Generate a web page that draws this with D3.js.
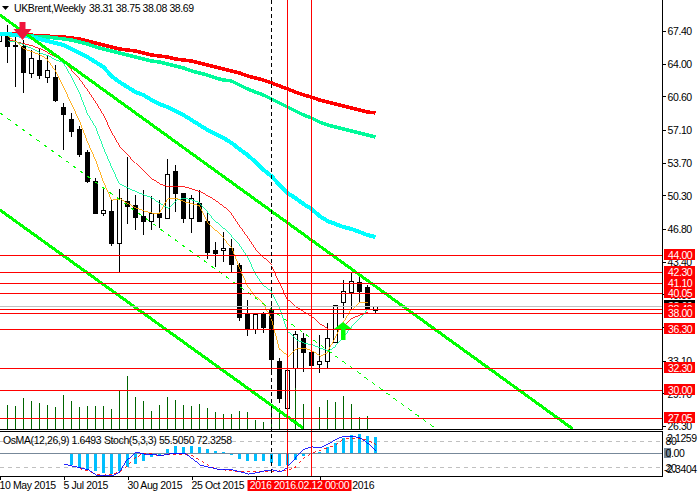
<!DOCTYPE html>
<html>
<head>
<meta charset="utf-8">
<script src="https://cdn.jsdelivr.net/npm/d3@7"></script>
<style>
  html, body { margin: 0; padding: 0; background: #fff; }
  svg { display: block; }
  text { font-family: "Liberation Sans", sans-serif; font-size: 10.5px; letter-spacing: -0.4px; fill: #000; }
</style>
</head>
<body>
<div id="chart"></div>
<script>
// weekly candles, bar 0 = 10 May 2015
const opens = [66.30,66.78,65.94,65.74,62.93,64.38,62.51,62.61,59.49,58.14,57.10,54.71,51.79,48.36,48.67,45.24,49.61,49.29,48.15,47.63,48.36,47.94,52.83,50.54,47.84,49.40,47.63,44.61,44.51,44.82,42.95,37.85,36.39,37.85,38.37,33.06,28.07,32.33,35.45,33.99,32.75,32.96,35.04,39.10,40.24,41.18,40.66,38.31];
const highs = [67.00,68.03,66.88,66.46,65.42,65.53,64.90,63.86,59.91,58.87,57.51,55.02,52.10,51.06,49.81,50.96,54.29,50.33,50.86,50.23,49.81,54.08,53.46,50.54,50.33,50.86,48.46,45.44,46.48,45.75,43.26,39.41,37.95,38.16,38.89,33.37,32.12,36.18,35.97,33.99,35.76,37.02,38.89,41.49,42.22,41.80,40.97,38.75];
const lows = [66.30,64.07,61.57,60.95,62.51,62.40,61.99,60.01,55.02,56.37,54.29,51.58,48.36,48.15,45.03,42.22,47.32,46.69,46.17,46.69,46.90,47.94,48.56,47.42,46.38,47.63,43.67,42.84,43.36,42.32,37.23,35.66,35.87,35.97,31.81,28.69,28.07,30.25,31.91,32.64,31.81,32.33,35.04,37.50,38.37,39.20,38.42,38.08];
const closes = [67.00,65.74,65.74,63.13,64.59,62.82,63.24,60.22,58.66,56.99,54.50,51.69,48.46,48.77,45.24,49.92,49.19,48.04,47.63,48.36,48.04,52.52,50.44,47.94,50.02,47.63,44.40,44.30,44.82,43.15,37.64,36.49,37.95,36.60,33.27,29.11,32.12,35.87,33.99,32.64,33.06,35.45,38.89,40.34,41.38,40.34,38.57,38.69];
const volumes = [0,24,23,31,28,26,24,22,34,28,22,23,23,23,20,38,53,32,28,18,24,32,29,24,23,25,21,17,15,15,18,17,9,7,22,21,17,41,25,18,22,29,27,33,25,12,13,0];

// moving averages, all start at bar 1 except maCyan (bar 0)
const maRedThick = [67.09,67.09,66.98,66.98,66.88,66.88,66.78,66.78,66.67,66.57,66.36,66.15,65.94,65.74,65.53,65.42,65.32,65.11,64.90,64.80,64.69,64.49,64.38,64.28,64.07,63.86,63.65,63.45,63.24,63.03,62.72,62.51,62.30,61.99,61.68,61.37,61.05,60.74,60.53,60.22,60.01,59.80,59.60,59.39,59.18,58.97,58.87];
const maTealThick = [66.98,66.98,66.88,66.88,66.78,66.78,66.67,66.57,66.46,66.26,66.05,65.74,65.53,65.32,65.11,64.90,64.69,64.49,64.28,64.17,63.97,63.76,63.55,63.24,63.03,62.82,62.51,62.30,62.20,61.78,61.37,61.05,60.74,60.32,59.91,59.49,59.08,58.66,58.35,57.93,57.62,57.41,57.20,56.99,56.79,56.58,56.37];
const maCyan = [67.09,67.09,66.98,66.88,66.78,66.57,66.36,66.15,65.94,65.53,65.11,64.69,64.17,63.65,62.72,62.09,61.57,61.05,60.74,60.22,59.80,59.49,59.08,58.66,58.14,57.62,57.10,56.68,56.27,55.75,55.12,54.50,53.77,52.94,52.31,51.38,50.54,50.02,49.40,48.88,48.15,47.63,47.32,47.00,46.80,46.49,46.17,45.96];
const maRedThin = [66.46,66.26,66.05,65.84,65.53,65.11,64.69,64.17,63.34,62.41,61.26,60.01,58.66,56.89,55.43,54.50,53.66,52.83,52.00,51.48,51.17,51.27,51.17,50.96,50.65,50.23,49.71,49.08,48.36,47.11,45.96,44.71,43.78,42.95,41.18,39.41,38.68,38.16,37.64,36.91,36.39,36.39,36.81,37.53,37.85,38.16];
const maTealThin = [66.36,66.26,65.94,65.53,65.11,64.80,64.38,64.07,62.61,60.95,58.76,57.41,55.23,53.25,51.48,51.06,50.65,50.33,50.02,49.40,48.98,49.81,50.02,49.81,49.50,48.57,47.52,46.80,46.07,45.13,43.88,42.11,40.86,40.24,38.58,36.08,35.25,34.93,34.73,34.41,34.10,34.62,35.56,36.60,37.53,38.37];
const maOrange = [66.78,66.26,65.53,65.22,64.90,64.38,63.24,61.57,59.80,58.03,55.85,53.98,51.69,49.81,49.92,49.40,48.98,48.67,48.46,48.46,49.92,50.02,49.61,49.40,49.19,47.52,46.59,45.76,44.92,42.74,40.86,39.72,38.99,37.43,34.21,33.58,34.31,34.41,34.10,33.58,33.99,35.56,37.12,38.47,39.20,39.10];

// trend channel: [bar, price] end points
const channelUpper = [[0.125,69.06],[71.75,25.98]];
const channelLower = [[0.125,48.77],[38,26.09]];
const channelMid = [[0.125,58.87],[54.5,26.09]];

const levels = [44.00,42.30,41.10,40.05,38.40,38.00,36.30,32.30,30.00,27.05];
const lastPrice = 38.69;
const vlinesRed = [36,39];
const vlineDash = 34;
const priceTicks = [67.40,64.00,60.60,57.10,53.70,50.30,46.80,43.40,40.00,36.60,33.10,29.70,26.30];
const dateTickBars = [0,8,16,24,32,40];
const dateTickLabels = ["10 May 2015","5 Jul 2015","30 Aug 2015","25 Oct 2015","20 Dec 2015","14 Feb 2016"];
const dateBoxes = [[36,"2016.01.15 00:00"],[39,"2016.02.12 00:00"]];

// OsMA from bar 9, stochastic main from bar 8, signal from bar 10
const osma = [-1.21,-1.52,-1.72,-1.82,-2.02,-2.13,-1.82,-1.42,-1.11,-0.81,-0.40,-0.30,0.40,0.71,0.61,0.71,0.61,0.40,0.20,0.15,-0.20,-0.61,-0.81,-0.81,-0.81,-1.01,-1.32,-1.21,-0.71,-0.30,-0.15,0.15,0.61,1.01,1.52,1.82,1.92,1.72,1.65];
const stochMain = [26.9,22.3,17.7,13.1,1.5,0,0,8.5,38.5,54.6,50,50,45.4,50,52.3,52.3,38.5,24.6,20,15.4,13.1,13.1,8.5,3.8,6.2,10.8,13.1,8.5,20,40.8,61.5,66.2,63.9,73.1,84.6,91.5,91.5,86.9,73.1,55.5];
const stochSignal = [15.4,10.8,3.8,1.5,2.7,8.5,22.3,40.8,52.3,50,45.4,47.7,47.7,50,45.4,36.2,24.6,15.4,13.1,10.8,8.5,8.5,8.5,8.5,8.5,10.8,10.8,20,40.8,50,59.2,63.9,70.8,84.6,86.9,86.9,82.3,72.3];

const W = 700, H = 496, plotRight = 662;
const mainBottom = 429, subTop = 431, subBottom = 476;
const thin = 0.85;

const svg = d3.select("#chart").append("svg").attr("width", W).attr("height", H);

const x = d3.scaleLinear().domain([0, 48]).range([-1, 383]);
const y = d3.scaleLinear().domain([67.4, 26.3]).range([31, 426]);
const yVol = d3.scaleLinear().domain([0, 100]).range([mainBottom, mainBottom - 100]);
const yOsma = d3.scaleLinear().domain([0, 2.1259]).range([453, 432]);
const yStoch = d3.scaleLinear().domain([20, 80]).range([467, 441]);
const cx = (i) => x(i) + 0.5;
const row = (v) => Math.floor(y(v)) + 0.5;

svg.append("clipPath").attr("id", "mainClip").append("rect").attr("width", plotRight).attr("height", mainBottom);

const main = svg.append("g").attr("clip-path", "url(#mainClip)");
const sub = svg.append("g");

// volumes
main.selectAll(".vol").data(volumes).join("line")
  .attr("x1", (d, i) => cx(i)).attr("x2", (d, i) => cx(i))
  .attr("y1", mainBottom).attr("y2", (d) => yVol(d))
  .attr("stroke", (d) => (d > 0 ? "#006400" : "none"))
  .attr("shape-rendering", "crispEdges");

// candles
const candles = main.selectAll(".candle").data(opens).join("g").attr("shape-rendering", "crispEdges");
candles.append("line")
  .attr("x1", (d, i) => cx(i)).attr("x2", (d, i) => cx(i))
  .attr("y1", (d, i) => y(highs[i])).attr("y2", (d, i) => y(lows[i]))
  .attr("stroke", "#000");
candles.append("rect")
  .attr("x", (d, i) => cx(i) - 2).attr("width", 4)
  .attr("y", (d, i) => y(Math.max(opens[i], closes[i])))
  .attr("height", (d, i) => Math.max(1, Math.abs(y(opens[i]) - y(closes[i]))))
  .attr("fill", (d, i) => (closes[i] >= opens[i] ? "#fff" : "#000"))
  .attr("stroke", "#000");

// moving averages
const priceLine = (values, start) =>
  d3.line().x((d, i) => cx(i + start)).y((d) => y(d))(values);

const maDefs = [
  [maRedThick, 1, "#ff0000", 3.5],
  [maTealThick, 1, "#00fa9a", 3.5],
  [maCyan, 0, "#00ffff", 4],
  [maRedThin, 1, "#ff0000", thin],
  [maTealThin, 1, "#00fa9a", thin],
  [maOrange, 1, "#ffa500", thin],
];
maDefs.forEach(([values, start, color, width]) => {
  main.append("path").attr("d", priceLine(values, start))
    .attr("fill", "none").attr("stroke", color).attr("stroke-width", width)
    .attr("shape-rendering", "crispEdges");
});

// channel
const chanLine = d3.line().x((d) => x(d[0])).y((d) => y(d[1]));
[channelUpper, channelLower].forEach((c) => {
  main.append("path").attr("d", chanLine(c)).attr("stroke", "#00ff00")
    .attr("stroke-width", 3).attr("fill", "none").attr("shape-rendering", "crispEdges");
});
main.append("path").attr("d", chanLine(channelMid)).attr("stroke", "#00ff00")
  .attr("stroke-width", 1).attr("stroke-dasharray", "4,5").attr("fill", "none")
  .attr("shape-rendering", "crispEdges");

// current price and levels
main.append("line").attr("x1", 0).attr("x2", plotRight)
  .attr("y1", row(lastPrice)).attr("y2", row(lastPrice))
  .attr("stroke", "#c0c0c0");
main.selectAll(".level").data(levels).join("line")
  .attr("x1", 0).attr("x2", plotRight)
  .attr("y1", (d) => row(d)).attr("y2", (d) => row(d))
  .attr("stroke", "#ff0000");

// signal arrows
const arrowDown = "M-2.5,-18H3.5V-11L9.5,-11L0.5,0L-8.5,-11L-2.5,-11Z";
main.append("path").attr("d", arrowDown)
  .attr("transform", `translate(${x(3) - 1},${y(66.46)})`).attr("fill", "#f0143c");
const arrowUp = "M0,0L9,7H2.5V18H-2V7H-9Z";
main.append("path").attr("d", arrowUp)
  .attr("transform", `translate(${x(43)},${y(37.12)})`).attr("fill", "#00ff00");

// indicator pane
const gridStyle = (sel, val, scale) => sel
  .attr("x1", 0).attr("x2", plotRight)
  .attr("y1", Math.round(scale(val)) + 0.5).attr("y2", Math.round(scale(val)) + 0.5);
gridStyle(sub.append("line"), 80, yStoch).attr("stroke", "#c0c0c0").attr("stroke-dasharray", "4,4");
gridStyle(sub.append("line"), 20, yStoch).attr("stroke", "#c0c0c0").attr("stroke-dasharray", "4,4");

sub.selectAll(".osma").data(osma).join("rect")
  .attr("x", (d, i) => x(i + 9) - 1).attr("width", 3)
  .attr("y", (d) => Math.min(yOsma(d), yOsma(0)))
  .attr("height", (d) => Math.abs(yOsma(d) - yOsma(0)))
  .attr("fill", "#00bfff").attr("shape-rendering", "crispEdges");

gridStyle(sub.append("line"), 0, yOsma).attr("stroke", "#778899");

const stochLine = (values, start) =>
  d3.line().x((d, i) => cx(i + start)).y((d) => yStoch(d))(values);
sub.append("path").attr("d", stochLine(stochSignal, 10)).attr("fill", "none").attr("stroke-width", thin)
  .attr("stroke", "#ff0000").attr("stroke-dasharray", "3,3").attr("shape-rendering", "crispEdges");
sub.append("path").attr("d", stochLine(stochMain, 8)).attr("fill", "none").attr("stroke-width", thin)
  .attr("stroke", "#0000ff").attr("shape-rendering", "crispEdges");

// vertical markers over both panes
svg.selectAll(".vred").data(vlinesRed).join("line")
  .attr("x1", (d) => cx(d)).attr("x2", (d) => cx(d))
  .attr("y1", 0).attr("y2", subBottom).attr("stroke", "#ff0000")
  .attr("shape-rendering", "crispEdges");
svg.append("line").attr("x1", cx(vlineDash)).attr("x2", cx(vlineDash))
  .attr("y1", 0).attr("y2", subBottom).attr("stroke", "#000")
  .attr("stroke-dasharray", "4,3").attr("shape-rendering", "crispEdges");

// frames
const frame = svg.append("g").attr("stroke", "#000").attr("shape-rendering", "crispEdges");
frame.append("line").attr("x1", 0).attr("x2", plotRight + 1).attr("y1", mainBottom + 0.5).attr("y2", mainBottom + 0.5);
frame.append("line").attr("x1", 0).attr("x2", plotRight + 1).attr("y1", subTop + 0.5).attr("y2", subTop + 0.5);
frame.append("line").attr("x1", 0).attr("x2", plotRight + 1).attr("y1", subBottom + 0.5).attr("y2", subBottom + 0.5);
frame.append("line").attr("x1", plotRight + 0.5).attr("x2", plotRight + 0.5).attr("y1", 0).attr("y2", mainBottom + 1);
frame.append("line").attr("x1", plotRight + 0.5).attr("x2", plotRight + 0.5).attr("y1", subTop).attr("y2", subBottom + 1);

// price axis
const yAxis = svg.append("g").attr("transform", `translate(${plotRight + 0.5},0)`)
  .call(d3.axisRight(y).tickValues(priceTicks).tickFormat(d3.format(".2f")).tickSize(3).tickPadding(2));
yAxis.select(".domain").remove();
yAxis.selectAll("line").attr("stroke", "#000").attr("shape-rendering", "crispEdges");
yAxis.selectAll("text").attr("dy", "0.36em");

// labels for the level lines
const priceBox = (value, fill) => {
  const g = svg.append("g");
  const ly = Math.floor(y(value));
  g.append("rect").attr("x", plotRight + 2).attr("width", 31)
    .attr("y", ly - 6).attr("height", 11).attr("fill", fill);
  g.append("text").attr("x", plotRight + 6).attr("y", ly + 3.5)
    .style("fill", "#fff").text(d3.format(".2f")(value));
};
priceBox(lastPrice, "#000");
levels.forEach((v) => priceBox(v, "#ff0000"));

// indicator scale labels
const subLabels = [
  ["2.1259", 667, 441.5],
  ["80", 665.5, 444.5],
  ["-2.3404", 664, 472.5],
  ["20", 665.5, 471.5],
];
svg.append("rect").attr("x", 664).attr("y", 448).attr("width", 7).attr("height", 10).attr("fill", "#778899");
svg.append("text").attr("x", 665.5).attr("y", 456.5).text("0.00");
subLabels.forEach(([t, lx, ly]) => svg.append("text").attr("x", lx).attr("y", ly).text(t));

// time axis
const xAxis = svg.append("g").attr("transform", `translate(0,${subBottom + 0.5})`)
  .call(d3.axisBottom(x).tickValues(dateTickBars)
    .tickFormat((d, i) => dateTickLabels[i]).tickSize(3).tickPadding(2));
xAxis.select(".domain").remove();
xAxis.selectAll("line").attr("stroke", "#000").attr("transform", "translate(0.5,0)").attr("shape-rendering", "crispEdges");
xAxis.selectAll("text").attr("text-anchor", "start").attr("dy", "0.71em");

dateBoxes.forEach(([bar, label]) => {
  const g = svg.append("g");
  g.append("rect").attr("x", cx(bar) - 40).attr("width", 80)
    .attr("y", 480).attr("height", 11).attr("fill", "#ff0000");
  g.append("text").attr("x", cx(bar)).attr("y", 489).attr("text-anchor", "middle")
    .style("fill", "#fff").text(label);
});

// header
svg.append("path").attr("d", d3.line()([[2, 6], [9, 6], [5.5, 10]])).attr("fill", "#000");
svg.append("text").attr("x", 14).attr("y", 11.5).text("UKBrent,Weekly");
svg.append("text").attr("x", 89).attr("y", 11.5).text("38.31 38.75 38.08 38.69");
svg.append("text").attr("x", 3).attr("y", 444).text("OsMA(12,26,9) 1.6493");
svg.append("text").attr("x", 104).attr("y", 444).text("Stoch(5,3,3) 55.5050 72.3258");
</script>
</body>
</html>
